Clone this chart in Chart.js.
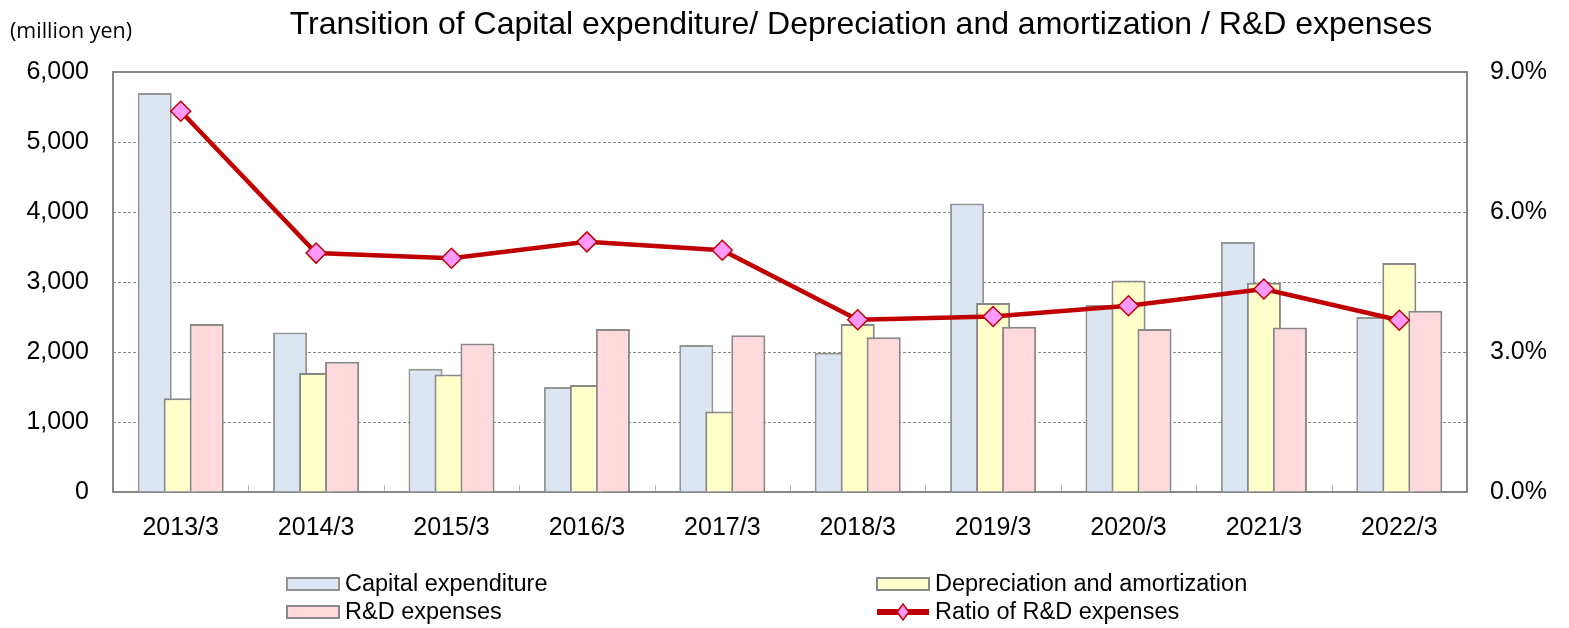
<!DOCTYPE html>
<html>
<head>
<meta charset="utf-8">
<script src="https://cdn.jsdelivr.net/npm/chart.js@4/dist/chart.umd.min.js"></script>
<style>
  html, body { margin: 0; padding: 0; background: #fff; }
  #wrap { width: 1569px; height: 628px; }
</style>
</head>
<body>
<div id="wrap"><canvas id="capexChart" width="1569" height="628"></canvas></div>
<script>
var categories = ['2013/3', '2014/3', '2015/3', '2016/3', '2017/3', '2018/3', '2019/3', '2020/3', '2021/3', '2022/3'];
var capex = [5700, 2280, 1760, 1500, 2100, 1990, 4120, 2670, 3570, 2500];
var depreciation = [1340, 1700, 1680, 1530, 1150, 2400, 2700, 3020, 2990, 3270];
var rdExpenses = [2400, 1860, 2120, 2330, 2240, 2210, 2360, 2330, 2350, 2590];
var rdRatio = [8.16, 5.12, 5.01, 5.36, 5.18, 3.69, 3.76, 3.99, 4.35, 3.68];

var titleText = 'Transition of Capital expenditure/ Depreciation and amortization / R&D expenses';
var unitText = '(million yen)';

var FONT = "'Liberation Sans', Arial, sans-serif";
var frameColor = '#888888';

// draws bars in dataset order (left bar underneath), frame, titles and legend
var layoutPlugin = {
  id: 'layoutPlugin',
  beforeDatasetsDraw: function (chart) {
    var ctx = chart.ctx;
    var a = chart.chartArea;
    var x = chart.scales.x;
    ctx.save();
    // small inner ticks between categories
    ctx.strokeStyle = '#b0b0b0';
    ctx.lineWidth = 1;
    for (var i = 1; i < categories.length; i++) {
      var px = Math.round((x.getPixelForTick(i - 1) + x.getPixelForTick(i)) / 2) + 0.5;
      ctx.beginPath();
      ctx.moveTo(px, a.bottom);
      ctx.lineTo(px, a.bottom - 7);
      ctx.stroke();
    }
    ctx.strokeStyle = frameColor;
    ctx.lineWidth = 2;
    ctx.strokeRect(a.left, a.top, a.right - a.left, a.bottom - a.top);
    ctx.restore();
    for (var d = 0; d < chart.data.datasets.length; d++) {
      chart.getDatasetMeta(d).controller.draw();
    }
    return false;
  },
  afterDraw: function (chart) {
    var ctx = chart.ctx;
    ctx.save();
    ctx.fillStyle = '#000';
    ctx.textBaseline = 'middle';
    ctx.textAlign = 'center';
    ctx.font = '32px ' + FONT;
    ctx.fillText(titleText, 861, 25);
    ctx.textAlign = 'left';
    ctx.font = "21.5px 'Open Sans', sans-serif";
    ctx.fillText(unitText, 10, 32);

    // legend, two columns
    var cols = [287, 877];
    var rows = [584, 612];
    ctx.font = '23.5px ' + FONT;
    chart.data.datasets.forEach(function (ds, i) {
      var lx = cols[i % 2];
      var ly = rows[Math.floor(i / 2)];
      if (ds.type === 'line') {
        ctx.strokeStyle = ds.borderColor;
        ctx.lineWidth = 6;
        ctx.beginPath();
        ctx.moveTo(lx, ly);
        ctx.lineTo(lx + 52, ly);
        ctx.stroke();
        ctx.fillStyle = ds.pointBackgroundColor;
        ctx.strokeStyle = ds.pointBorderColor;
        ctx.lineWidth = 1.5;
        ctx.beginPath();
        ctx.moveTo(lx + 26, ly - 8);
        ctx.lineTo(lx + 32, ly);
        ctx.lineTo(lx + 26, ly + 8);
        ctx.lineTo(lx + 20, ly);
        ctx.closePath();
        ctx.fill();
        ctx.stroke();
      } else {
        ctx.fillStyle = ds.backgroundColor;
        ctx.fillRect(lx, ly - 6, 52, 12);
        ctx.strokeStyle = ds.borderColor;
        ctx.lineWidth = 2;
        ctx.strokeRect(lx, ly - 6, 52, 12);
      }
      ctx.fillStyle = '#000';
      ctx.fillText(ds.label, lx + 58, ly + 1);
    });
    ctx.restore();
  }
};

var ctx = document.getElementById('capexChart').getContext('2d');
var chart = new Chart(ctx, {
  data: {
    labels: categories,
    datasets: [
      {
        type: 'bar',
        label: 'Capital expenditure',
        data: capex,
        backgroundColor: '#dce6f2',
        borderColor: '#959595',
        borderWidth: 2,
        yAxisID: 'y'
      },
      {
        type: 'bar',
        label: 'Depreciation and amortization',
        data: depreciation,
        backgroundColor: '#ffffcc',
        borderColor: '#888888',
        borderWidth: 2,
        yAxisID: 'y'
      },
      {
        type: 'bar',
        label: 'R&D expenses',
        data: rdExpenses,
        backgroundColor: '#ffd9dc',
        borderColor: '#888888',
        borderWidth: 2,
        yAxisID: 'y'
      },
      {
        type: 'line',
        label: 'Ratio of R&D expenses',
        data: rdRatio,
        borderColor: '#c00000',
        borderWidth: 4.5,
        pointStyle: 'rectRot',
        pointRadius: 10,
        pointBackgroundColor: '#ff99ff',
        pointBorderColor: '#c00000',
        pointBorderWidth: 1.5,
        tension: 0,
        yAxisID: 'y1'
      }
    ]
  },
  options: {
    responsive: false,
    animation: false,
    devicePixelRatio: 1,
    categoryPercentage: 0.576,
    barPercentage: 1.31,
    layout: { padding: { top: 72, left: 0, right: 0, bottom: 0 } },
    plugins: {
      legend: { display: false },
      title: { display: false },
      tooltip: { enabled: false }
    },
    scales: {
      x: {
        afterFit: function (s) { s.height = 136; },
        grid: { display: false },
        border: { display: false },
        ticks: { color: '#000', font: { family: FONT, size: 25 }, padding: 13, maxRotation: 0 }
      },
      y: {
        position: 'left',
        min: 0,
        max: 6000,
        afterFit: function (s) { s.width = 113; },
        grid: { color: '#8a8a8a', lineWidth: 1, drawTicks: false },
        border: { display: false, dash: [3, 2] },
        ticks: {
          stepSize: 1000,
          color: '#000',
          padding: 24,
          font: { family: FONT, size: 25 },
          callback: function (v) { return v.toLocaleString('en-US'); }
        }
      },
      y1: {
        position: 'right',
        min: 0,
        max: 9,
        afterFit: function (s) { s.width = 102; },
        grid: { display: false, drawTicks: false },
        border: { display: false },
        ticks: {
          stepSize: 3,
          color: '#000',
          padding: 23,
          font: { family: FONT, size: 25 },
          callback: function (v) { return v.toFixed(1) + '%'; }
        }
      }
    }
  },
  plugins: [layoutPlugin]
});
</script>
</body>
</html>
